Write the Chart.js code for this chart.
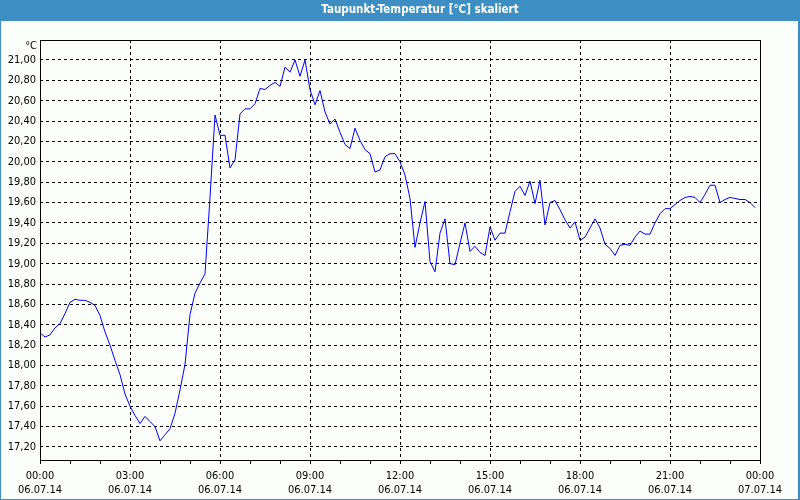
<!DOCTYPE html>
<html>
<head>
<meta charset="utf-8">
<title>Taupunkt-Temperatur</title>
<script src="https://cdn.jsdelivr.net/npm/chart.js@4/dist/chart.umd.min.js"></script>
<style>
    body { margin: 0; background: #ffffff; overflow: hidden; }
    #wrap { position: relative; width: 800px; height: 500px; }
</style>
</head>
<body>
<div id="wrap">
    <canvas id="chart" width="800" height="500"></canvas>
</div>
<script>
const chartTitle = 'Taupunkt-Temperatur [°C] skaliert';
const unitLabel = '°C';

// Messwerte alle 10 Minuten, 06.07.14 00:00 bis 23:50
const sampleMinutes = 10;
const dewPoint = [
    18.32, 18.28, 18.30, 18.37, 18.41, 18.51, 18.62, 18.65, 18.64, 18.64,
    18.62, 18.59, 18.49, 18.33, 18.20, 18.05, 17.91, 17.72, 17.60, 17.51,
    17.43, 17.50, 17.45, 17.40, 17.26, 17.32, 17.38, 17.53, 17.76, 18.01,
    18.50, 18.71, 18.81, 18.90, 19.65, 20.46, 20.26, 20.26, 19.94, 20.02,
    20.47, 20.52, 20.52, 20.57, 20.72, 20.71, 20.75, 20.78, 20.74, 20.93,
    20.88, 21.00, 20.84, 21.00, 20.71, 20.56, 20.70, 20.49, 20.37, 20.42,
    20.29, 20.17, 20.13, 20.33, 20.21, 20.12, 20.08, 19.90, 19.92, 20.05,
    20.08, 20.08, 20.00, 19.87, 19.64, 19.16, 19.40, 19.61, 19.02, 18.92,
    19.30, 19.44, 19.00, 18.99, 19.20, 19.40, 19.12, 19.17, 19.11, 19.08,
    19.36, 19.23, 19.30, 19.30, 19.51, 19.71, 19.76, 19.67, 19.81, 19.59,
    19.82, 19.38, 19.60, 19.62, 19.53, 19.43, 19.35, 19.41, 19.23, 19.26,
    19.35, 19.44, 19.35, 19.19, 19.15, 19.08, 19.18, 19.19, 19.18, 19.26,
    19.32, 19.29, 19.29, 19.40, 19.49, 19.54, 19.54, 19.58, 19.62, 19.65,
    19.66, 19.65, 19.60, 19.68, 19.77, 19.77, 19.60, 19.63, 19.65, 19.64,
    19.63, 19.63, 19.60, 19.55
];

// Achsenbeschriftung
const hourTicks = [0, 1, 2, 3, 4, 5, 6, 7, 8, 9, 10, 11, 12, 13, 14, 15, 16, 17, 18, 19, 20, 21, 22, 23, 24];
const majorHours = [0, 3, 6, 9, 12, 15, 18, 21, 24];
const timeLabels = ['00:00', '03:00', '06:00', '09:00', '12:00', '15:00', '18:00', '21:00', '00:00'];
const dateLabels = ['06.07.14', '06.07.14', '06.07.14', '06.07.14', '06.07.14', '06.07.14', '06.07.14', '06.07.14', '07.07.14'];
const yTicks = [17.2, 17.4, 17.6, 17.8, 18.0, 18.2, 18.4, 18.6, 18.8, 19.0, 19.2, 19.4, 19.6, 19.8, 20.0, 20.2, 20.4, 20.6, 20.8, 21.0];
const yMin = 17.072;
const yMax = 21.196;

const fontFamily = "'DejaVu Sans Condensed', 'DejaVu Sans', sans-serif";
const barColor = '#3d8fc3';

const points = dewPoint.map((v, i) => ({ x: i * sampleMinutes / 60, y: v }));

// Hintergrund, Titelleiste und Rahmen
const framePlugin = {
    id: 'frame',
    beforeDraw(chart) {
        const ctx = chart.ctx;
        ctx.save();
        ctx.fillStyle = '#fcfefc';
        ctx.fillRect(0, 0, chart.width, chart.height);
        ctx.fillStyle = barColor;
        ctx.fillRect(0, 0, chart.width, 21);
        ctx.fillRect(0, 0, 1, chart.height);
        ctx.fillRect(chart.width - 2, 0, 2, chart.height);
        ctx.fillRect(0, chart.height - 1, chart.width, 1);
        ctx.fillStyle = '#ffffff';
        ctx.font = 'bold 11.5px ' + fontFamily;
        ctx.textAlign = 'center';
        ctx.textBaseline = 'middle';
        ctx.fillText(chartTitle, chart.width / 2 + 20, 10.5);
        ctx.restore();
    },
    afterDraw(chart) {
        const ctx = chart.ctx;
        const a = chart.chartArea;
        ctx.save();
        ctx.strokeStyle = '#000000';
        ctx.lineWidth = 1;
        ctx.strokeRect(a.left + 0.5, a.top + 0.5, a.right - a.left, a.bottom - a.top);
        ctx.fillStyle = '#000000';
        ctx.font = '11px ' + fontFamily;
        ctx.textAlign = 'right';
        ctx.textBaseline = 'middle';
        ctx.fillText(unitLabel, a.left - 3, a.top + 6);
        ctx.restore();
    }
};

new Chart(document.getElementById('chart'), {
    type: 'line',
    data: {
        datasets: [{
            data: points,
            borderColor: '#0000ff',
            borderWidth: 1,
            pointRadius: 0,
            tension: 0,
            fill: false
        }]
    },
    options: {
        responsive: false,
        animation: false,
        devicePixelRatio: 1,
        layout: { padding: { top: 40, right: 40, left: 0, bottom: 0 } },
        plugins: {
            legend: { display: false },
            tooltip: { enabled: false },
            title: { display: false }
        },
        scales: {
            x: {
                type: 'linear',
                min: 0,
                max: 24,
                afterBuildTicks: scale => {
                    scale.ticks = hourTicks.map(h => ({ value: h }));
                },
                afterFit: scale => { scale.height = 40; },
                border: { display: false, dash: [3, 3] },
                grid: {
                    color: ctx => (ctx.tick && majorHours.includes(ctx.tick.value)) ? '#000000' : 'rgba(0,0,0,0)',
                    tickColor: '#000000',
                    tickBorderDash: [],
                    tickLength: 4,
                    lineWidth: 1
                },
                ticks: {
                    autoSkip: false,
                    maxRotation: 0,
                    padding: 5,
                    color: '#000000',
                    font: { family: fontFamily, size: 11, lineHeight: 1.3 },
                    callback: value => {
                        const k = majorHours.indexOf(value);
                        return k < 0 ? '' : [timeLabels[k], dateLabels[k]];
                    }
                }
            },
            y: {
                min: yMin,
                max: yMax,
                afterBuildTicks: scale => {
                    scale.ticks = yTicks.map(v => ({ value: v }));
                },
                afterFit: scale => { scale.width = 40; },
                border: { display: false, dash: [3, 3] },
                grid: {
                    color: '#000000',
                    drawTicks: false,
                    lineWidth: 1
                },
                ticks: {
                    padding: 4,
                    color: '#000000',
                    font: { family: fontFamily, size: 11 },
                    callback: value => value.toFixed(2).replace('.', ',')
                }
            }
        }
    },
    plugins: [framePlugin]
});
</script>
</body>
</html>
